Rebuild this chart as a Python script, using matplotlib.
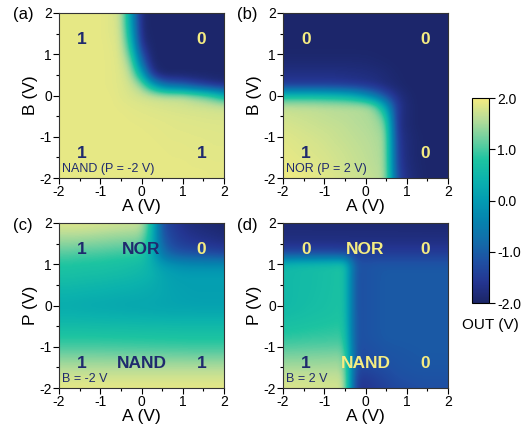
import numpy as np
import matplotlib
matplotlib.use("Agg")
import matplotlib.pyplot as plt
from matplotlib.colors import LinearSegmentedColormap

plt.rcParams['font.family'] = ['Liberation Sans', 'DejaVu Sans']
plt.rcParams['axes.unicode_minus'] = False

# grid axes (V), 0.25 V steps
volts = np.arange(-2, 2.01, 0.25)

# OUT (V) maps, rows from top (y = 2 V) to bottom (y = -2 V), columns A = -2 .. 2 V
# (a) NAND, P = -2 V : x = A, y = B
out_a = [
    [1.9, 1.9, 1.9, 1.9, 1.9, 1.85, 1.75, 0.0, -1.9, -1.95, -1.95, -1.95, -1.95, -1.95, -1.95, -1.95, -1.95],
    [1.9, 1.9, 1.9, 1.9, 1.9, 1.85, 1.75, 0.1, -1.9, -1.95, -1.95, -1.95, -1.95, -1.95, -1.95, -1.95, -1.95],
    [1.9, 1.9, 1.9, 1.9, 1.9, 1.85, 1.78, 0.3, -1.85, -1.95, -1.95, -1.95, -1.95, -1.95, -1.95, -1.95, -1.95],
    [1.9, 1.9, 1.9, 1.9, 1.9, 1.87, 1.8, 0.6, -1.7, -1.95, -1.95, -1.95, -1.95, -1.95, -1.95, -1.95, -1.95],
    [1.9, 1.9, 1.9, 1.9, 1.9, 1.88, 1.82, 1.0, -1.2, -1.95, -1.95, -1.95, -1.95, -1.95, -1.95, -1.95, -1.95],
    [1.9, 1.9, 1.9, 1.9, 1.9, 1.88, 1.84, 1.4, -0.6, -1.9, -1.95, -1.95, -1.95, -1.95, -1.95, -1.95, -1.95],
    [1.9, 1.9, 1.9, 1.9, 1.9, 1.88, 1.85, 1.6, 0.4, -1.5, -1.95, -1.95, -1.95, -1.95, -1.95, -1.95, -1.95],
    [1.9, 1.9, 1.9, 1.9, 1.9, 1.88, 1.85, 1.75, 1.4, 0.3, -0.6, -0.9, -1.0, -1.3, -1.5, -1.7, -1.8],
    [1.9, 1.9, 1.9, 1.9, 1.9, 1.9, 1.85, 1.8, 1.75, 1.7, 1.65, 1.6, 1.6, 1.4, 1.2, 0.9, 0.4],
    [1.9, 1.9, 1.9, 1.9, 1.9, 1.9, 1.88, 1.86, 1.84, 1.82, 1.8, 1.78, 1.76, 1.75, 1.74, 1.72, 1.7],
    [1.9, 1.9, 1.9, 1.9, 1.9, 1.9, 1.9, 1.88, 1.87, 1.86, 1.85, 1.84, 1.83, 1.82, 1.81, 1.8, 1.8],
    [1.9, 1.9, 1.9, 1.9, 1.9, 1.9, 1.9, 1.9, 1.89, 1.88, 1.87, 1.86, 1.85, 1.85, 1.84, 1.84, 1.83],
    [1.9, 1.9, 1.9, 1.9, 1.9, 1.9, 1.9, 1.9, 1.9, 1.89, 1.88, 1.87, 1.87, 1.86, 1.86, 1.85, 1.85],
    [1.9, 1.9, 1.9, 1.9, 1.9, 1.9, 1.9, 1.9, 1.9, 1.9, 1.89, 1.88, 1.88, 1.87, 1.87, 1.86, 1.86],
    [1.9, 1.9, 1.9, 1.9, 1.9, 1.9, 1.9, 1.9, 1.9, 1.9, 1.9, 1.89, 1.89, 1.88, 1.88, 1.87, 1.87],
    [1.9, 1.9, 1.9, 1.9, 1.9, 1.9, 1.9, 1.9, 1.9, 1.9, 1.9, 1.9, 1.9, 1.89, 1.89, 1.88, 1.88],
    [1.9, 1.9, 1.9, 1.9, 1.9, 1.9, 1.9, 1.9, 1.9, 1.9, 1.9, 1.9, 1.9, 1.9, 1.9, 1.89, 1.89],
]

# (b) NOR, P = 2 V : x = A, y = B
out_b = [
    [-1.95] * 17,
    [-1.95] * 17,
    [-1.95] * 17,
    [-1.95] * 17,
    [-1.93, -1.93, -1.93, -1.93, -1.93, -1.93, -1.93, -1.93, -1.93, -1.94, -1.95, -1.95, -1.95, -1.95, -1.95, -1.95, -1.95],
    [-1.85, -1.85, -1.85, -1.85, -1.85, -1.85, -1.85, -1.86, -1.87, -1.9, -1.92, -1.95, -1.95, -1.95, -1.95, -1.95, -1.95],
    [-1.7, -1.7, -1.7, -1.7, -1.7, -1.7, -1.72, -1.74, -1.76, -1.8, -1.86, -1.92, -1.95, -1.95, -1.95, -1.95, -1.95],
    [-1.5, -1.5, -1.5, -1.5, -1.5, -1.52, -1.55, -1.6, -1.65, -1.72, -1.82, -1.9, -1.95, -1.95, -1.95, -1.95, -1.95],
    [0.6, 0.6, 0.6, 0.6, 0.55, 0.5, 0.4, 0.2, -0.2, -0.7, -1.3, -1.7, -1.9, -1.95, -1.95, -1.95, -1.95],
    [1.65, 1.64, 1.63, 1.62, 1.6, 1.59, 1.58, 1.57, 1.55, 1.2, 0.0, -1.5, -1.85, -1.95, -1.95, -1.95, -1.95],
    [1.75, 1.72, 1.7, 1.68, 1.65, 1.62, 1.6, 1.57, 1.55, 1.5, 0.9, -1.6, -1.85, -1.95, -1.95, -1.95, -1.95],
    [1.8, 1.78, 1.75, 1.72, 1.7, 1.68, 1.65, 1.6, 1.57, 1.52, 1.3, -1.6, -1.85, -1.95, -1.95, -1.95, -1.95],
    [1.85, 1.82, 1.8, 1.77, 1.74, 1.7, 1.67, 1.63, 1.6, 1.55, 1.45, -1.5, -1.82, -1.92, -1.95, -1.95, -1.95],
    [1.88, 1.85, 1.82, 1.8, 1.77, 1.73, 1.7, 1.66, 1.62, 1.57, 1.48, -1.45, -1.8, -1.92, -1.95, -1.95, -1.95],
    [1.9, 1.88, 1.85, 1.82, 1.8, 1.76, 1.72, 1.68, 1.64, 1.58, 1.5, -1.4, -1.8, -1.92, -1.95, -1.95, -1.95],
    [1.93, 1.9, 1.88, 1.85, 1.82, 1.78, 1.74, 1.7, 1.66, 1.6, 1.52, -1.35, -1.78, -1.9, -1.95, -1.95, -1.95],
    [1.97, 1.95, 1.92, 1.89, 1.86, 1.82, 1.78, 1.74, 1.7, 1.64, 1.55, -1.2, -1.72, -1.88, -1.95, -1.95, -1.95],
]

# (c) B = -2 V : x = A, y = P
out_c = [
    [1.85, 1.85, 1.85, 1.83, 1.8, 1.78, 1.75, 1.72, 1.7, 0.6, -1.2, -1.5, -1.7, -1.8, -1.85, -1.9, -1.95],
    [1.6, 1.6, 1.6, 1.58, 1.55, 1.52, 1.5, 1.48, 1.45, 0.5, -1.1, -1.4, -1.6, -1.7, -1.75, -1.8, -1.85],
    [1.35, 1.35, 1.32, 1.3, 1.28, 1.25, 1.22, 1.2, 1.15, 0.4, -0.9, -1.3, -1.45, -1.55, -1.6, -1.65, -1.7],
    [1.05, 1.05, 1.0, 1.0, 0.98, 0.95, 0.92, 0.9, 0.85, 0.3, -0.6, -1.0, -1.1, -1.15, -1.2, -1.25, -1.3],
    [0.8, 0.8, 0.78, 0.76, 0.75, 0.72, 0.7, 0.65, 0.6, 0.35, 0.0, -0.15, -0.25, -0.3, -0.3, -0.3, -0.3],
    [0.7, 0.7, 0.68, 0.66, 0.65, 0.62, 0.6, 0.55, 0.5, 0.4, 0.2, 0.1, 0.05, 0.05, 0.05, 0.05, 0.05],
    [0.55, 0.55, 0.52, 0.5, 0.48, 0.45, 0.42, 0.4, 0.35, 0.3, 0.2, 0.12, 0.1, 0.08, 0.08, 0.08, 0.08],
    [0.4, 0.4, 0.38, 0.36, 0.35, 0.33, 0.31, 0.3, 0.28, 0.25, 0.2, 0.15, 0.12, 0.1, 0.1, 0.1, 0.1],
    [0.3, 0.3, 0.28, 0.26, 0.25, 0.24, 0.22, 0.2, 0.2, 0.18, 0.16, 0.15, 0.14, 0.13, 0.12, 0.12, 0.12],
    [0.4, 0.4, 0.39, 0.38, 0.37, 0.36, 0.35, 0.34, 0.33, 0.32, 0.31, 0.3, 0.3, 0.3, 0.3, 0.3, 0.3],
    [0.6, 0.6, 0.6, 0.59, 0.59, 0.58, 0.58, 0.57, 0.57, 0.56, 0.56, 0.55, 0.55, 0.55, 0.55, 0.55, 0.55],
    [0.8, 0.8, 0.8, 0.8, 0.79, 0.79, 0.78, 0.78, 0.77, 0.77, 0.76, 0.76, 0.75, 0.75, 0.75, 0.75, 0.75],
    [1.0, 1.0, 1.0, 1.0, 1.0, 0.99, 0.99, 0.98, 0.98, 0.97, 0.97, 0.96, 0.96, 0.95, 0.95, 0.95, 0.95],
    [1.3, 1.3, 1.3, 1.3, 1.3, 1.29, 1.29, 1.28, 1.28, 1.27, 1.27, 1.26, 1.26, 1.25, 1.25, 1.25, 1.25],
    [1.55, 1.55, 1.55, 1.55, 1.55, 1.55, 1.55, 1.55, 1.55, 1.55, 1.55, 1.55, 1.55, 1.55, 1.55, 1.55, 1.55],
    [1.75, 1.75, 1.75, 1.75, 1.75, 1.75, 1.75, 1.75, 1.75, 1.75, 1.75, 1.75, 1.75, 1.75, 1.75, 1.75, 1.75],
    [1.9, 1.9, 1.9, 1.9, 1.9, 1.9, 1.9, 1.9, 1.9, 1.9, 1.9, 1.9, 1.9, 1.9, 1.9, 1.9, 1.9],
]

# (d) B = 2 V : x = A, y = P
out_d = [
    [-1.85, -1.85, -1.85, -1.86, -1.86, -1.86, -1.87, -1.87, -1.87, -1.88, -1.88, -1.88, -1.89, -1.89, -1.9, -1.9, -1.9],
    [-1.8, -1.8, -1.8, -1.8, -1.8, -1.8, -1.8, -1.8, -1.8, -1.8, -1.8, -1.8, -1.8, -1.8, -1.8, -1.8, -1.8],
    [-1.7, -1.7, -1.7, -1.7, -1.7, -1.7, -1.7, -1.7, -1.7, -1.7, -1.7, -1.7, -1.7, -1.7, -1.7, -1.7, -1.7],
    [-1.2, -1.2, -1.2, -1.2, -1.2, -1.2, -1.25, -1.4, -1.45, -1.45, -1.45, -1.45, -1.45, -1.45, -1.45, -1.45, -1.45],
    [0.5, 0.55, 0.6, 0.62, 0.65, 0.68, 0.75, -1.1, -1.15, -1.1, -1.1, -1.1, -1.1, -1.1, -1.1, -1.1, -1.1],
    [0.55, 0.58, 0.6, 0.63, 0.66, 0.7, 0.78, -1.2, -1.15, -1.1, -1.05, -1.05, -1.05, -1.05, -1.05, -1.05, -1.05],
    [0.55, 0.58, 0.6, 0.63, 0.66, 0.7, 0.78, -1.2, -1.15, -1.1, -1.05, -1.05, -1.05, -1.05, -1.05, -1.05, -1.05],
    [0.55, 0.58, 0.61, 0.64, 0.67, 0.71, 0.78, -1.2, -1.15, -1.1, -1.05, -1.05, -1.05, -1.05, -1.05, -1.05, -1.05],
    [0.55, 0.58, 0.62, 0.65, 0.68, 0.72, 0.78, -1.2, -1.15, -1.1, -1.05, -1.05, -1.05, -1.05, -1.05, -1.05, -1.05],
    [0.62, 0.64, 0.67, 0.7, 0.72, 0.75, 0.8, -1.2, -1.15, -1.1, -1.05, -1.05, -1.05, -1.05, -1.05, -1.05, -1.05],
    [0.72, 0.74, 0.76, 0.78, 0.8, 0.82, 0.85, -1.2, -1.15, -1.1, -1.05, -1.05, -1.05, -1.05, -1.05, -1.05, -1.05],
    [0.85, 0.86, 0.88, 0.9, 0.91, 0.92, 0.95, -1.2, -1.15, -1.1, -1.05, -1.05, -1.05, -1.05, -1.05, -1.05, -1.05],
    [1.05, 1.06, 1.07, 1.08, 1.08, 1.09, 1.1, -1.2, -1.2, -1.15, -1.1, -1.08, -1.07, -1.06, -1.05, -1.05, -1.05],
    [1.3, 1.3, 1.31, 1.32, 1.33, 1.34, 1.35, -1.25, -1.25, -1.2, -1.15, -1.12, -1.1, -1.08, -1.07, -1.07, -1.07],
    [1.5, 1.5, 1.5, 1.5, 1.5, 1.5, 1.5, -1.3, -1.3, -1.25, -1.2, -1.15, -1.12, -1.1, -1.1, -1.1, -1.1],
    [1.72, 1.71, 1.7, 1.69, 1.68, 1.67, 1.65, -1.45, -1.5, -1.4, -1.3, -1.2, -1.18, -1.15, -1.15, -1.15, -1.15],
    [1.82, 1.81, 1.8, 1.79, 1.78, 1.77, 1.75, -1.55, -1.6, -1.5, -1.4, -1.3, -1.25, -1.22, -1.2, -1.2, -1.2],
]

panel_tags = ["(a)", "(b)", "(c)", "(d)"]
ylabels = ["B (V)", "B (V)", "P (V)", "P (V)"]
corner_notes = ["NAND (P = -2 V)", "NOR (P = 2 V)", "B = -2 V", "B = 2 V"]
# logic states: (text, x, y, colour key)
state_marks = [
    [("1", -1.45, 1.35, "n"), ("0", 1.45, 1.35, "y"), ("1", -1.45, -1.4, "n"), ("1", 1.45, -1.4, "n")],
    [("0", -1.45, 1.35, "y"), ("0", 1.45, 1.35, "y"), ("1", -1.45, -1.4, "n"), ("0", 1.45, -1.4, "y")],
    [("1", -1.45, 1.35, "n"), ("NOR", 0.0, 1.35, "n"), ("0", 1.45, 1.35, "y"),
     ("1", -1.45, -1.4, "n"), ("NAND", 0.0, -1.4, "n"), ("1", 1.45, -1.4, "n")],
    [("0", -1.45, 1.35, "y"), ("NOR", 0.0, 1.35, "y"), ("0", 1.45, 1.35, "y"),
     ("1", -1.45, -1.4, "n"), ("NAND", 0.0, -1.4, "y"), ("0", 1.45, -1.4, "y")],
]
cbar_ticks = [2.0, 1.0, 0.0, -1.0, -2.0]

navy = "#1f2a6e"
yellow = "#f5ec82"
txt_col = {"n": navy, "y": yellow}

cmap = LinearSegmentedColormap.from_list("out", [
    (0.0, "#1b2566"), (0.1, "#243591"), (0.2, "#1f4fa3"), (0.3, "#126caa"),
    (0.4, "#0583ae"), (0.5, "#039bb2"), (0.6, "#0bb2ad"), (0.7, "#1dc4a1"),
    (0.8, "#6ecfa0"), (0.9, "#b9dd98"), (1.0, "#f5ec80")])

fig = plt.figure(figsize=(5.31, 4.30), dpi=100)
W, H = 531, 430
boxes = [(59, 13), (283, 13), (59, 223), (283, 223)]
maps = [out_a, out_b, out_c, out_d]

for i in range(4):
    x0, y0 = boxes[i]
    ax = fig.add_axes([x0 / W, 1 - (y0 + 165) / H, 165 / W, 165 / H])
    im = ax.imshow(np.array(maps[i]), cmap=cmap, vmin=-2, vmax=2, origin="upper",
                   extent=[volts[0] - 0.125, volts[-1] + 0.125, volts[0] - 0.125, volts[-1] + 0.125],
                   interpolation="bicubic", aspect="auto")
    ax.set_xlim(-2, 2)
    ax.set_ylim(-2, 2)
    ax.set_xticks([-2, -1, 0, 1, 2])
    ax.set_yticks([-2, -1, 0, 1, 2])
    ax.set_xticks(np.arange(-1.5, 2, 1), minor=True)
    ax.set_yticks(np.arange(-1.5, 2, 1), minor=True)
    ax.tick_params(which="major", direction="out", length=4, width=0.8, labelsize=10, pad=1)
    ax.tick_params(which="minor", direction="out", length=2.5, width=0.8)
    ax.set_xlabel("A (V)", fontsize=12.5, labelpad=0)
    ax.set_ylabel(ylabels[i], fontsize=12.5, labelpad=1)
    for s in ax.spines.values():
        s.set_linewidth(0.8)
        s.set_color("#333333")
    for t, x, y, c in state_marks[i]:
        ax.text(x, y, t, color=txt_col[c], fontsize=12.5, fontweight="bold",
                ha="center", va="center")
    ax.text(-1.93, -1.93, corner_notes[i], color=navy, fontsize=9, ha="left", va="bottom")
    fig.text((x0 - 46) / W, 1 - (y0 + 2) / H, panel_tags[i], fontsize=12, ha="left", va="center")

cax = fig.add_axes([472 / W, 1 - 303 / H, 17 / W, 205 / H])
cb = fig.colorbar(im, cax=cax, ticks=cbar_ticks)
cb.ax.set_yticklabels(["%.1f" % v for v in cbar_ticks])
cb.ax.tick_params(direction="out", length=4, width=0.8, labelsize=10, pad=2)
cb.outline.set_linewidth(0.8)
fig.text(490 / W, 1 - 325 / H, "OUT (V)", fontsize=11, ha="center", va="center")

fig.savefig("out.png", dpi=100)
